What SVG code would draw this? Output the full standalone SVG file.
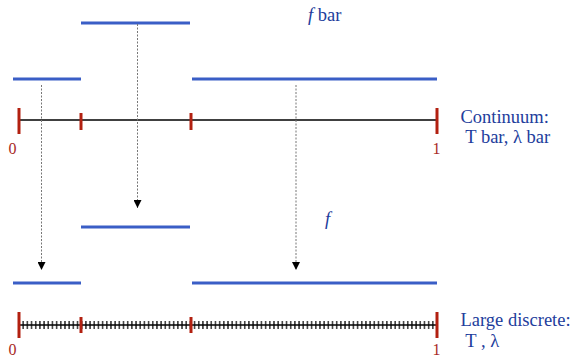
<svg xmlns="http://www.w3.org/2000/svg" width="575" height="359" viewBox="0 0 575 359">
<defs>
<style>
.bar{stroke:#3a5ec6;stroke-width:3;fill:none}
.axis{stroke:#000;stroke-width:1.3;fill:none}
.rt{stroke:#b22010;stroke-width:3;fill:none}
.dash{stroke:#777;stroke-width:1;stroke-dasharray:2,1.5;fill:none}
.lbl{font-size:18.5px;fill:#223d9c}
.num{font-size:16px;fill:#a82a1e}
</style>
<marker id="ah" viewBox="0 0 10 10" refX="10" refY="5" markerWidth="8" markerHeight="8" markerUnits="userSpaceOnUse" orient="auto">
<path d="M0,0 L10,5 L0,10 z" fill="#000"/>
</marker>
<pattern id="tk" x="19" y="0" width="4.18" height="359" patternUnits="userSpaceOnUse">
<rect x="-0.6" y="321" width="1.2" height="8" fill="#000"/>
<rect x="3.58" y="321" width="1.2" height="8" fill="#000"/>
</pattern>
</defs>
<g id="top-bars">
<line class="bar" x1="81" y1="23" x2="190" y2="23"/>
<line class="bar" x1="13" y1="79" x2="81" y2="79"/>
<line class="bar" x1="192" y1="79" x2="437" y2="79"/>
</g>
<g id="continuum-axis" font-family="'Liberation Serif', 'Times New Roman', 'DejaVu Serif', serif">
<line class="axis" x1="19" y1="120" x2="437" y2="120"/>
<line class="rt" x1="19" y1="108" x2="19" y2="134"/>
<line class="rt" x1="81" y1="113" x2="81" y2="130"/>
<line class="rt" x1="191" y1="113" x2="191" y2="130"/>
<line class="rt" x1="437" y1="108" x2="437" y2="134"/>
<text class="num" x="8.5" y="154">0</text>
<text class="num" x="432.5" y="154">1</text>
</g>
<g id="bottom-bars">
<line class="bar" x1="81" y1="227" x2="190" y2="227"/>
<line class="bar" x1="13" y1="283" x2="81" y2="283"/>
<line class="bar" x1="192" y1="283" x2="437" y2="283"/>
</g>
<g id="discrete-axis" font-family="'Liberation Serif', 'Times New Roman', 'DejaVu Serif', serif">
<rect x="20" y="320" width="416" height="10" fill="url(#tk)"/>
<line class="axis" x1="19" y1="325" x2="437" y2="325"/>
<line class="rt" x1="19" y1="312" x2="19" y2="338"/>
<line class="rt" x1="81" y1="317" x2="81" y2="333"/>
<line class="rt" x1="191" y1="317" x2="191" y2="333"/>
<line class="rt" x1="437" y1="312" x2="437" y2="338"/>
<text class="num" x="8.5" y="354.5">0</text>
<text class="num" x="432.5" y="354.5">1</text>
</g>
<g id="connectors">
<line class="dash" x1="41.5" y1="85" x2="41.5" y2="270" marker-end="url(#ah)"/>
<line class="dash" x1="137.5" y1="24" x2="137.5" y2="208" marker-end="url(#ah)"/>
<line class="dash" x1="296" y1="85" x2="296" y2="270" marker-end="url(#ah)"/>
</g>
<g id="labels" font-family="'Liberation Serif', 'Times New Roman', 'DejaVu Serif', serif">
<text class="lbl" x="308" y="21"><tspan font-style="italic">f</tspan> bar</text>
<text class="lbl" x="460.5" y="123">Continuum:</text>
<text class="lbl" x="461" y="143" xml:space="preserve"> T bar, λ bar</text>
<text class="lbl" x="325" y="224.5" font-style="italic">f</text>
<text class="lbl" x="460.5" y="326">Large discrete:</text>
<text class="lbl" x="461" y="347" xml:space="preserve"> T , λ</text>
</g>
</svg>
